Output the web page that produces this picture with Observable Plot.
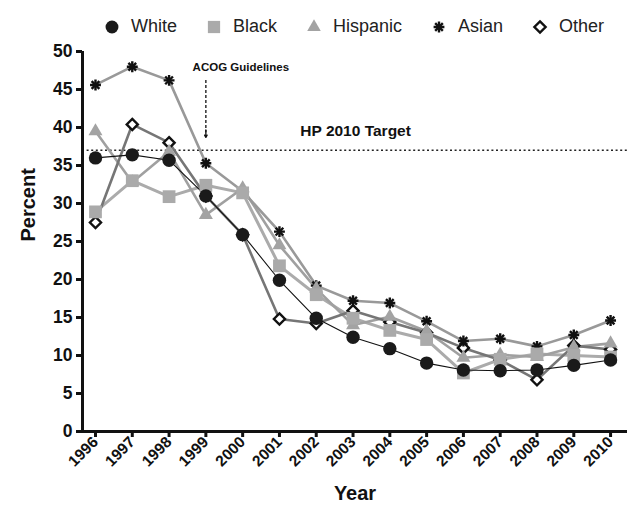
<!DOCTYPE html>
<html>
<head>
<meta charset="utf-8">
<script src="https://cdn.jsdelivr.net/npm/d3@7"></script>
<script src="https://cdn.jsdelivr.net/npm/@observablehq/plot@0.6"></script>
<style>
  html, body { margin: 0; padding: 0; background: #fff; }
  #legend { height: 40px; display: flex; align-items: center; padding-left: 105px; padding-top: 13px; box-sizing: border-box;
            font: 18px "Liberation Sans", Arial, sans-serif; color: #222; }
  .item { display: flex; align-items: center; margin-right: 30px; }
  .item svg { margin-right: 12px; overflow: visible; }
</style>
</head>
<body>
<div id="legend"></div>
<div id="chart"></div>
<script>
const years = [1996, 1997, 1998, 1999, 2000, 2001, 2002, 2003, 2004, 2005, 2006, 2007, 2008, 2009, 2010];
const white    = [36.0, 36.4, 35.7, 31.0, 25.9, 19.9, 14.9, 12.4, 10.9, 9.0, 8.1, 8.0, 8.1, 8.7, 9.4];
const black    = [28.9, 33.0, 30.9, 32.4, 31.4, 21.8, 18.0, 14.9, 13.3, 12.1, 7.7, 9.5, 10.2, 10.0, 9.8];
const hispanic = [39.5, 32.8, 36.8, 28.5, 32.0, 24.5, 18.8, 14.0, 15.1, 13.2, 9.7, 10.1, 9.8, 11.1, 11.6];
const asian    = [45.6, 48.0, 46.2, 35.3, 31.6, 26.3, 19.2, 17.2, 16.9, 14.5, 11.9, 12.2, 11.2, 12.7, 14.6];
const other    = [27.5, 40.4, 38.0, 31.0, 25.9, 14.8, 14.2, 15.9, 14.4, 13.0, 11.0, 9.4, 6.8, 11.3, 10.8];
const seriesNames = ["White", "Black", "Hispanic", "Asian", "Other"];
const yTicks = [0, 5, 10, 15, 20, 25, 30, 35, 40, 45, 50];

const hpTarget = 37;
const hpLabel = "HP 2010 Target";
const hpLabelYear = 2003.07;
const acogLabel = "ACOG Guidelines";
const acogYear = 1999;
const acogTextYear = 1998.64;
const acogTextValue = 47.9;
const acogArrowFrom = 46.2;
const acogArrowTo = 38.7;

const font = '"Liberation Sans", Arial, sans-serif';
const toRows = (vals) => years.map((y, i) => ({year: y, value: vals[i]}));
const W = toRows(white), B = toRows(black), H = toRows(hispanic), A = toRows(asian), O = toRows(other);

// Legend
const legendSyms = [
  {name: seriesNames[0], draw: g => g.append("path").attr("d", d3.symbol(d3.symbolCircle, 130)()).attr("fill", "#1a1a1a")},
  {name: seriesNames[1], draw: g => g.append("path").attr("d", d3.symbol(d3.symbolSquare, 150)()).attr("fill", "#aaaaaa")},
  {name: seriesNames[2], draw: g => g.append("path").attr("d", d3.symbol(d3.symbolTriangle, 80)()).attr("fill", "#a3a3a3")},
  {name: seriesNames[3], draw: g => {
      g.append("path").attr("d", d3.symbol(d3.symbolPlus, 40)()).attr("stroke", "#111").attr("stroke-width", 2.4).attr("fill", "none");
      g.append("path").attr("d", d3.symbol(d3.symbolTimes, 40)()).attr("stroke", "#111").attr("stroke-width", 2.4).attr("fill", "none");
  }},
  {name: seriesNames[4], draw: g => g.append("path").attr("d", d3.symbol(d3.symbolDiamond2, 80)()).attr("stroke", "#111").attr("stroke-width", 2.4).attr("fill", "white")}
];
const legend = d3.select("#legend");
legendSyms.forEach(s => {
  const it = legend.append("div").attr("class", "item");
  const svg = it.append("svg").attr("width", 14).attr("height", 14);
  s.draw(svg.append("g").attr("transform", "translate(7,7)"));
  it.append("span").text(s.name);
});

const xMin = 1995.647, xMax = 2010.46;

const chart = Plot.plot({
  width: 627,
  height: 469,
  marginTop: 11,
  marginBottom: 78,
  marginLeft: 82,
  marginRight: 0,
  x: {type: "linear", domain: [xMin, xMax]},
  y: {domain: [0, 50]},
  style: {fontFamily: font, background: "white", color: "#111", overflow: "visible"},
  marks: [
    Plot.ruleY([hpTarget], {stroke: "#222", strokeDasharray: "2,2.6", strokeWidth: 1.4}),
    Plot.text([hpLabel], {x: () => hpLabelYear, y: () => hpTarget, dy: -19, fontSize: 15.5, fontWeight: "bold", fill: "#111"}),
    Plot.text([acogLabel], {x: () => acogTextYear, y: () => acogTextValue, textAnchor: "start", fontSize: 11.5, fontWeight: "bold", fill: "#111"}),
    Plot.ruleX([acogYear], {y1: acogArrowFrom, y2: acogArrowTo + 0.6, stroke: "#111", strokeDasharray: "3,2", strokeWidth: 1.3}),
    Plot.arrow([acogYear], {x1: d => d, x2: d => d, y1: acogArrowTo + 1.0, y2: acogArrowTo, stroke: "#111", strokeWidth: 1.3, headLength: 7}),
    Plot.line(B, {x: "year", y: "value", stroke: "#ababab", strokeWidth: 3}),
    Plot.line(H, {x: "year", y: "value", stroke: "#a0a0a0", strokeWidth: 2.6}),
    Plot.line(A, {x: "year", y: "value", stroke: "#999999", strokeWidth: 2.6}),
    Plot.line(O, {x: "year", y: "value", stroke: "#767676", strokeWidth: 2.6}),
    Plot.line(W, {x: "year", y: "value", stroke: "#111", strokeWidth: 1.1}),
    Plot.dot(O, {x: "year", y: "value", symbol: "diamond2", r: 5.0, fill: "white", stroke: "#111", strokeWidth: 2.4}),
    Plot.dot(A, {x: "year", y: "value", symbol: "plus", r: 3.6, fill: "none", stroke: "#111", strokeWidth: 2.4}),
    Plot.dot(A, {x: "year", y: "value", symbol: "times", r: 3.6, fill: "none", stroke: "#111", strokeWidth: 2.4}),
    Plot.dot(H, {x: "year", y: "value", symbol: "triangle", r: 5.2, fill: "#a3a3a3"}),
    Plot.dot(B, {x: "year", y: "value", symbol: "square", r: 7.2, fill: "#aaaaaa"}),
    Plot.dot(W, {x: "year", y: "value", symbol: "circle", r: 6.7, fill: "#1a1a1a"}),
    Plot.ruleY([0], {stroke: "#111", strokeWidth: 3}),
    Plot.ruleX([xMin], {y1: 0, y2: 50, stroke: "#111", strokeWidth: 3}),
    Plot.axisX({ticks: years, tickFormat: d => String(d), tickRotate: -45, tickSize: 6, tickPadding: 2, strokeWidth: 3, fontSize: 15.5, fontWeight: "bold", label: null}),
    Plot.axisY({ticks: yTicks, tickSize: 6, tickPadding: 4, strokeWidth: 3, fontSize: 17.5, fontWeight: "bold", label: null}),
    Plot.text(["Percent"], {frameAnchor: "left", rotate: -90, dx: -54, fontSize: 20, fontWeight: "bold", fill: "#111"}),
    Plot.text(["Year"], {frameAnchor: "bottom", dy: 68, fontSize: 20, fontWeight: "bold", fill: "#111"})
  ]
});
document.getElementById("chart").appendChild(chart);
</script>
</body>
</html>
